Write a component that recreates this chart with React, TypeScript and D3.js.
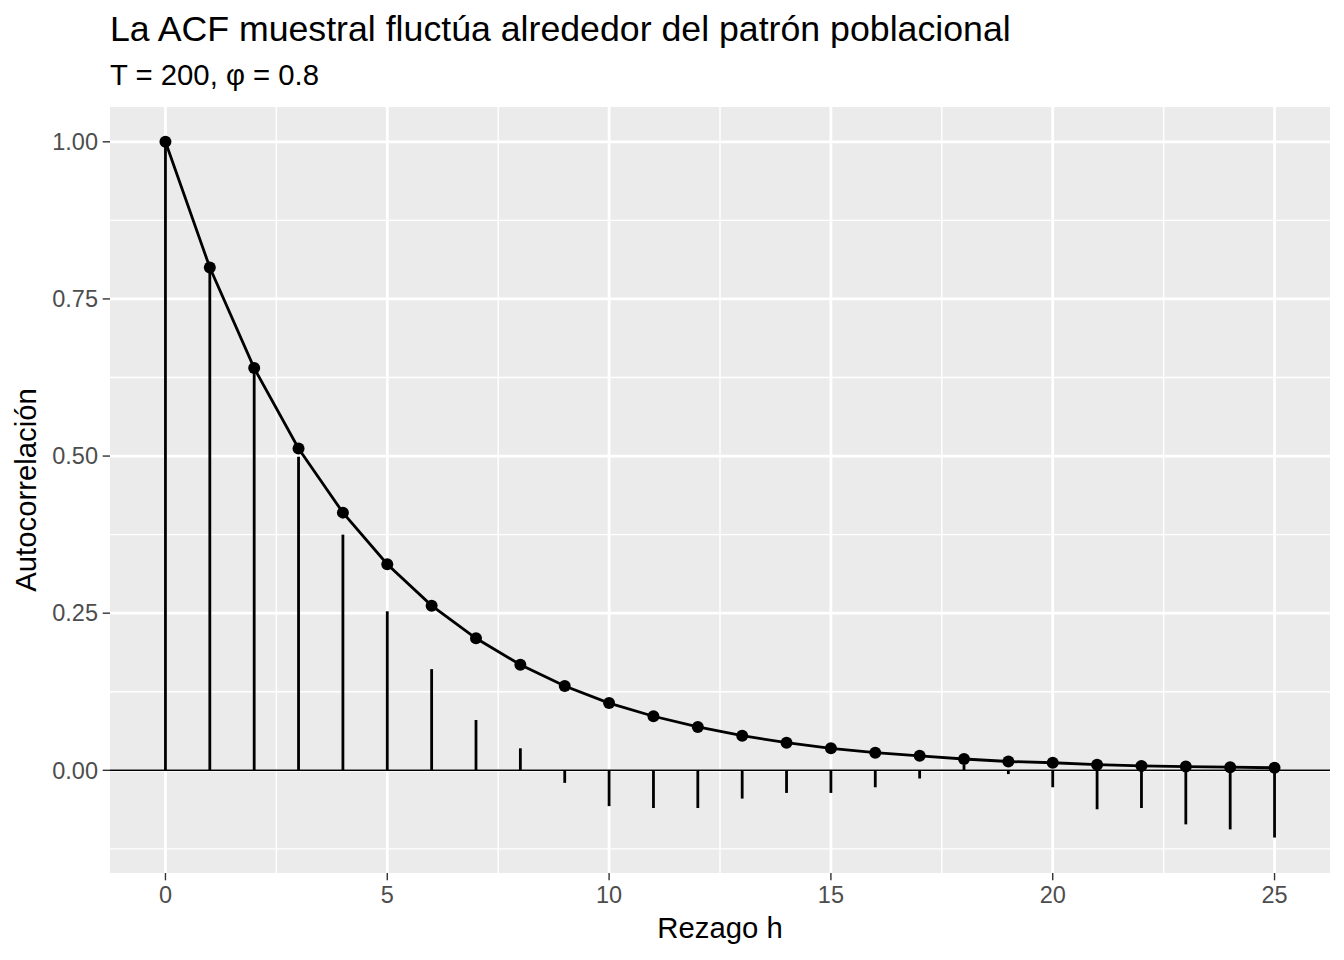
import { scaleLinear, line as d3_line } from "d3";

// rezagos 0..25
const lags = [
  0, 1, 2, 3, 4, 5, 6, 7, 8, 9, 10, 11, 12, 13, 14, 15, 16, 17, 18, 19, 20,
  21, 22, 23, 24, 25,
];

// ACF muestral (barras)
const sampleAcf = [
  1.0, 0.795, 0.635, 0.499, 0.375, 0.253, 0.161, 0.08, 0.035, -0.02, -0.057,
  -0.06, -0.06, -0.045, -0.036, -0.036, -0.027, -0.013, 0.009, -0.006, -0.027,
  -0.062, -0.06, -0.086, -0.094, -0.107,
];

// ACF poblacional (línea y puntos)
const popAcf = [
  1.0, 0.8, 0.64, 0.512, 0.41, 0.328, 0.262, 0.21, 0.168, 0.134, 0.107, 0.086,
  0.069, 0.055, 0.044, 0.035, 0.028, 0.023, 0.018, 0.014, 0.012, 0.009, 0.007,
  0.006, 0.005, 0.004,
];

const xTicks = [0, 5, 10, 15, 20, 25];
const xMinor = [2.5, 7.5, 12.5, 17.5, 22.5];
const yTicks = [0, 0.25, 0.5, 0.75, 1.0];
const yMinor = [-0.125, 0.125, 0.375, 0.625, 0.875];

const W = 1344;
const H = 960;
const panel = { left: 110, right: 1330, top: 107, bottom: 873 };
const FONT = "'Liberation Sans', Arial, Helvetica, sans-serif";

export default function App() {
  const x = scaleLinear().domain([-1.25, 26.25]).range([panel.left, panel.right]);
  const y = scaleLinear()
    .domain([-0.1634, 1.0554])
    .range([panel.bottom, panel.top]);

  const pts = lags.map((h, i) => ({ h, v: popAcf[i] }));
  const path = d3_line<(typeof pts)[number]>()
    .x((d) => x(d.h))
    .y((d) => y(d.v))(pts);

  return (
    <div style={{ position: "absolute", left: 0, top: 0 }}>
      <svg width={W} height={H} style={{ display: "block", fontFamily: FONT }}>
        <rect width={W} height={H} fill="#FFFFFF" />
        {/* panel */}
        <rect
          x={panel.left}
          y={panel.top}
          width={panel.right - panel.left}
          height={panel.bottom - panel.top}
          fill="#EBEBEB"
        />
        {/* minor grid */}
        {yMinor.map((v) => (
          <line
            key={`ym${v}`}
            x1={panel.left}
            x2={panel.right}
            y1={y(v)}
            y2={y(v)}
            stroke="#FFFFFF"
            strokeWidth={1.4}
          />
        ))}
        {xMinor.map((v) => (
          <line
            key={`xm${v}`}
            y1={panel.top}
            y2={panel.bottom}
            x1={x(v)}
            x2={x(v)}
            stroke="#FFFFFF"
            strokeWidth={1.4}
          />
        ))}
        {/* major grid */}
        {yTicks.map((v) => (
          <line
            key={`yM${v}`}
            x1={panel.left}
            x2={panel.right}
            y1={y(v)}
            y2={y(v)}
            stroke="#FFFFFF"
            strokeWidth={2.8}
          />
        ))}
        {xTicks.map((v) => (
          <line
            key={`xM${v}`}
            y1={panel.top}
            y2={panel.bottom}
            x1={x(v)}
            x2={x(v)}
            stroke="#FFFFFF"
            strokeWidth={2.8}
          />
        ))}

        {/* zero line */}
        <line
          x1={panel.left}
          x2={panel.right}
          y1={y(0)}
          y2={y(0)}
          stroke="#000000"
          strokeWidth={1.6}
        />

        {/* sample ACF spikes */}
        {lags.map((h, i) => (
          <line
            key={`s${h}`}
            x1={x(h)}
            x2={x(h)}
            y1={y(0)}
            y2={y(sampleAcf[i])}
            stroke="#000000"
            strokeWidth={2.8}
          />
        ))}

        {/* population ACF */}
        <path d={path ?? ""} fill="none" stroke="#000000" strokeWidth={2.8} />
        {pts.map((d) => (
          <circle key={`p${d.h}`} cx={x(d.h)} cy={y(d.v)} r={6} fill="#000000" />
        ))}

        {/* y axis */}
        {yTicks.map((v) => (
          <g key={`yt${v}`}>
            <line
              x1={panel.left - 7.3}
              x2={panel.left}
              y1={y(v)}
              y2={y(v)}
              stroke="#333333"
              strokeWidth={1.4}
            />
            <text
              x={panel.left - 12}
              y={y(v)}
              dy="0.35em"
              textAnchor="end"
              fontSize={23.5}
              fill="#4D4D4D"
            >
              {v.toFixed(2)}
            </text>
          </g>
        ))}

        {/* x axis */}
        {xTicks.map((v) => (
          <g key={`xt${v}`}>
            <line
              x1={x(v)}
              x2={x(v)}
              y1={panel.bottom}
              y2={panel.bottom + 7.3}
              stroke="#333333"
              strokeWidth={1.4}
            />
            <text
              x={x(v)}
              y={panel.bottom + 30}
              textAnchor="middle"
              fontSize={23.5}
              fill="#4D4D4D"
            >
              {v}
            </text>
          </g>
        ))}

        {/* axis titles */}
        <text
          x={(panel.left + panel.right) / 2}
          y={938}
          textAnchor="middle"
          fontSize={29.3}
          fill="#000000"
        >
          Rezago h
        </text>
        <text
          transform={`translate(36,${(panel.top + panel.bottom) / 2}) rotate(-90)`}
          textAnchor="middle"
          fontSize={29.3}
          fill="#000000"
        >
          Autocorrelación
        </text>

        {/* titles */}
        <text x={panel.left} y={41} fontSize={35.7} fill="#000000">
          La ACF muestral fluctúa alrededor del patrón poblacional
        </text>
        <text x={panel.left} y={85} fontSize={29.3} fill="#000000">
          T = 200, φ = 0.8
        </text>
      </svg>
    </div>
  );
}
